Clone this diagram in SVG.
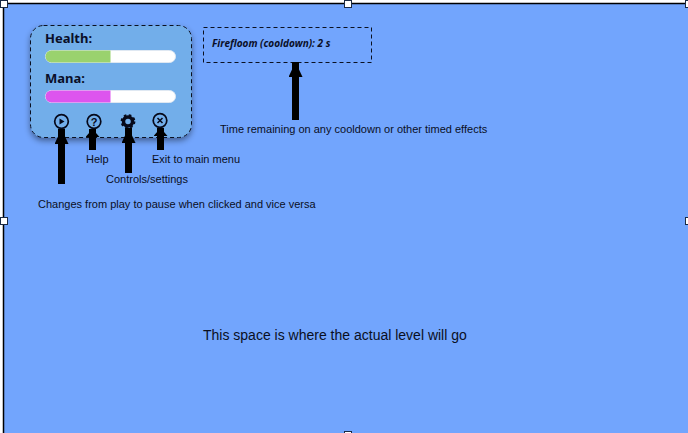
<svg xmlns="http://www.w3.org/2000/svg" width="688" height="433" viewBox="0 0 688 433">
<style>
.t{font-family:"Liberation Sans",Arial,sans-serif;font-size:11px;fill:#0a0f1e}
.h{font-family:"Noto Sans",sans-serif;font-size:13px;font-weight:700;fill:#0a0f28}
.a{stroke:#000;stroke-width:7;fill:none}
.l{marker-end:url(#ah)}
.s{marker-end:url(#ahs)}
.hd{fill:#fff;stroke:#1a2a44;stroke-width:1}
.ic{fill:none;stroke:#06091a;stroke-width:1.700}
</style>
<defs>
<marker id="ah" markerUnits="userSpaceOnUse" markerWidth="16" markerHeight="14" refX="15" refY="7" orient="auto"><path d="M0 0L15 7L0 14Z" fill="#000"/></marker>
<marker id="ahs" markerUnits="userSpaceOnUse" markerWidth="9" markerHeight="14" refX="8" refY="7" orient="auto"><path d="M0 0L8 7L0 14Z" fill="#000"/></marker>
<filter id="sh" x="-10%" y="-10%" width="120%" height="125%"><feDropShadow dx="0" dy="3" stdDeviation="3" flood-color="#000" flood-opacity="0.45"/></filter>
</defs>
<rect width="688" height="433" fill="#fff"/>
<rect id="canvas" x="3.500" y="3.500" width="690" height="435" fill="#72a5fd" stroke="#000" stroke-width="1.500"/>
<g id="hud">
<rect x="30.500" y="25.500" width="161" height="112" rx="13" fill="#72aeea" filter="url(#sh)"/>
<rect x="30.500" y="25.500" width="161" height="112" rx="13" fill="none" stroke="#0a1020" stroke-dasharray="4 3"/>
<text class="h" x="45" y="43">Health:</text>
<rect x="45.500" y="50.500" width="130" height="12" rx="6" fill="#fff" stroke="#dfe8f2"/>
<path d="M110.500 50.500H51.500a6 6 0 0 0 0 12H110.500Z" fill="#9ad26e"/>
<text class="h" x="45" y="83">Mana:</text>
<rect x="45.500" y="90.500" width="130" height="12" rx="6" fill="#fff" stroke="#dfe8f2"/>
<path d="M110.500 90.500H51.500a6 6 0 0 0 0 12H110.500Z" fill="#dd55ee"/>
</g>
<g id="play"><circle class="ic" cx="61.500" cy="121.500" r="6.800"/><path d="M59.500 118.500L64.500 121.500L59.500 124.500Z" fill="#06091a"/></g>
<g id="help"><circle class="ic" cx="94" cy="121.500" r="6.800"/><text x="94" y="125.500" text-anchor="middle" style="font-family:'Liberation Sans',sans-serif;font-size:11px;font-weight:700;fill:#06091a">?</text></g>
<g id="settings"><circle cx="128" cy="121.500" r="4.500" fill="none" stroke="#06091a" stroke-width="3.500"/><circle cx="128" cy="121.500" r="6.200" fill="none" stroke="#06091a" stroke-width="2.400" stroke-dasharray="2.500 2.370"/></g>
<g id="exit"><circle class="ic" cx="160" cy="120.500" r="6.800"/><path d="M157.500 118L162.500 123M162.500 118L157.500 123" stroke="#06091a" stroke-width="1.500" fill="none"/></g>
<g id="cooldown">
<rect x="203.500" y="27.500" width="168" height="35" fill="none" stroke="#0a1020" stroke-dasharray="4 3"/>
<text x="212" y="47" style="font-family:'Open Sans',sans-serif;font-size:10px;font-weight:700;font-style:italic;fill:#0a0f28">Firefloom (cooldown): 2 s</text>
</g>
<g id="connectors">
<path class="a l" d="M61.500 184V129"/>
<path class="a s" d="M92.500 150V129"/>
<path class="a l" d="M128.500 173V128"/>
<path class="a s" d="M160.500 150V128"/>
<path class="a l" d="M295.500 120V62"/>
</g>
<g id="labels">
<text class="t" x="86" y="163">Help</text>
<text class="t" x="152" y="163">Exit to main menu</text>
<text class="t" x="106" y="183">Controls/settings</text>
<text class="t" x="38" y="208">Changes from play to pause when clicked and vice versa</text>
<text class="t" x="220" y="133">Time remaining on any cooldown or other timed effects</text>
<text x="203" y="340" style="font-family:'Liberation Sans',sans-serif;font-size:14px;fill:#0a0f1e">This space is where the actual level will go</text>
</g>
<g id="handles">
<rect class="hd" x="0.500" y="0.500" width="7" height="7"/>
<rect class="hd" x="344.500" y="0.500" width="7" height="7"/>
<rect class="hd" x="685.500" y="0.500" width="7" height="7"/>
<rect class="hd" x="0.500" y="217.500" width="7" height="7"/>
<rect class="hd" x="685.500" y="217.500" width="7" height="7"/>
<rect class="hd" x="344.500" y="431.500" width="7" height="7"/>
</g>
</svg>
